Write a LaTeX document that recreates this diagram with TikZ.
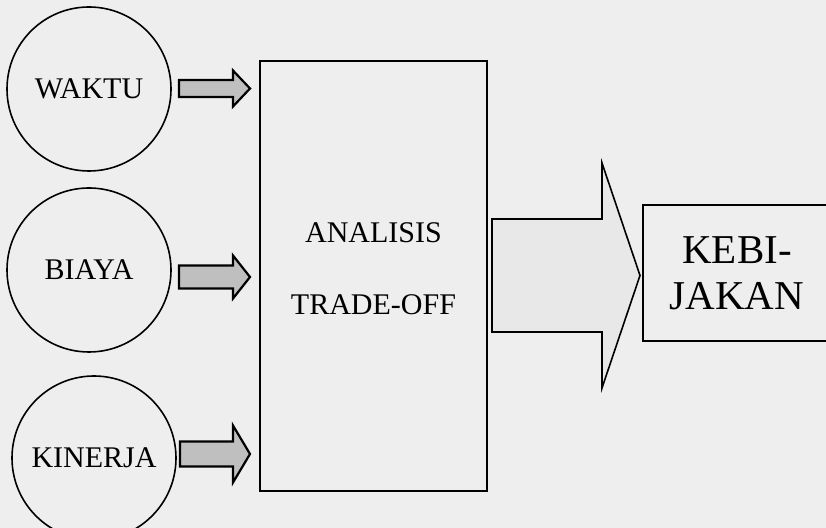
\documentclass[tikz,border=0pt]{standalone}
\usepackage{fontspec}
\setmainfont{Liberation Serif}
\usepackage{xcolor}
\usetikzlibrary{positioning}

\definecolor{latar}{gray}{0.935}

% panah blok: gaya, pangkal, panjang badan, setengah badan, setengah kepala, panjang kepala
\newcommand{\blokpanah}[6]{%
  \draw[#1] (#2) ++(0,-#4) -- ++(#3,0) -- ++(0,{#4-#5}) -- ++(#6,#5)
    -- ++(-#6,#5) -- ++(0,{#4-#5}) -- ++(-#3,0) -- cycle;}

\begin{document}
\begin{tikzpicture}[x=0.5pt, y=-0.5pt, font=\fontsize{15}{18}\selectfont,
  lingkaran/.style={circle, draw, thick, minimum size=82pt, inner sep=0pt},
  kotak/.style={rectangle, draw, thick, align=center},
  panahkecil/.style={draw, line width=1.1pt, fill=gray!50, line join=miter},
  panahbesar/.style={draw, thick, fill=gray!18, line join=miter}]
\useasboundingbox[fill=latar] (0,0) rectangle (826,528);

% Masukan
\node[lingkaran] (waktu) at (89,89) {WAKTU};
\node[lingkaran] (biaya) at (89,270) {BIAYA};
\node[lingkaran] (kinerja) at (94,458) {KINERJA};

% Proses dan hasil
\node[kotak, minimum width=113.5pt, minimum height=215pt] (analisis) at (373.5,276) {};
\node[align=center] (teks) at (373.5,269) {ANALISIS\\[18pt]TRADE-OFF};
\node[kotak, minimum width=94pt, minimum height=68pt, font=\fontsize{20.5}{23}\selectfont] (kebijakan) at (737,273) {KEBI-\\JAKAN};

% Pangkal panah
\coordinate (a1) at (179,88.5);
\coordinate (a2) at (179,277);
\coordinate (a3) at (180,454);
\coordinate (a4) at (492,275.5);

% Panah
\blokpanah{panahkecil}{a1}{54}{8.5}{18}{17}
\blokpanah{panahkecil}{a2}{54}{11.5}{21.5}{17}
\blokpanah{panahkecil}{a3}{53}{12.5}{28.5}{17}
\blokpanah{panahbesar}{a4}{110}{56.5}{112.5}{38}
\end{tikzpicture}
\end{document}
